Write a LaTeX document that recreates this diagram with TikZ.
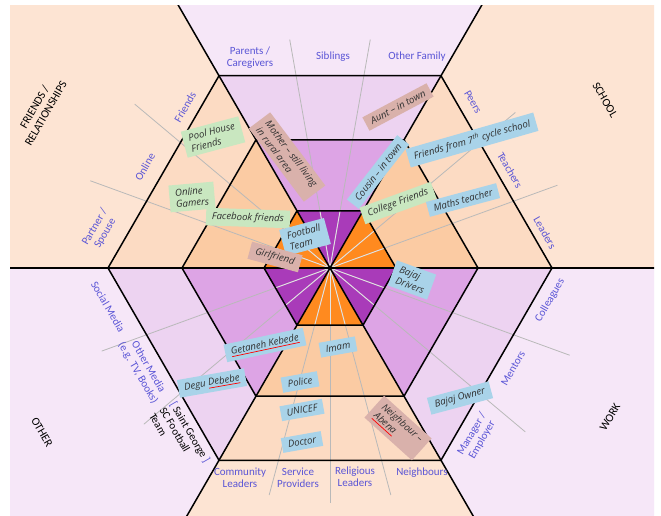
\documentclass[tikz,border=0pt]{standalone}
\usepackage{fontspec}
\setmainfont{Carlito}
\newfontfamily\handfont{Open Sans}
\definecolor{oPe}{HTML}{FDE4D3}
\definecolor{oLa}{HTML}{F6E7F8}
\definecolor{rPe}{HTML}{FCDBC3}
\definecolor{rLa}{HTML}{EDD3F1}
\definecolor{mPe}{HTML}{FBCBA3}
\definecolor{mLa}{HTML}{DDA4E5}
\definecolor{iOr}{HTML}{FF8A1F}
\definecolor{iPu}{HTML}{A93BB9}
\definecolor{lblblue}{HTML}{5A55D6}
\definecolor{nblue}{HTML}{A9D3E9}
\definecolor{ngreen}{HTML}{C9E7C0}
\definecolor{nrose}{HTML}{D9B1AB}
\definecolor{ntext}{HTML}{303030}
\newsavebox{\redulbox}
\newcommand\redul[1]{\leavevmode\sbox{\redulbox}{#1}\rlap{\textcolor{red}{\rule[-2.6pt]{\wd\redulbox}{0.7pt}}}\usebox{\redulbox}}
\tikzset{
  lbl/.style={text=lblblue, font=\fontsize{11}{12}\selectfont, align=center, inner sep=0pt},
  ttl/.style={text=black, font=\fontsize{11.5}{13}\selectfont, align=center, inner sep=0pt},
  note/.style={font=\handfont\itshape\fontsize{9.6}{11.5}\selectfont, text=ntext, inner xsep=6pt, inner ysep=4pt, align=left},
  nb/.style={note, fill=nblue},
  ng/.style={note, fill=ngreen},
  nr/.style={note, fill=nrose},
  greyline/.style={draw=gray!55, line width=0.8pt},
  whiteline/.style={draw=white, opacity=0.6, line width=0.9pt},
  blk/.style={draw=black, line width=1.5pt, line join=round}
}
\begin{document}
\begin{tikzpicture}[x=1pt,y=1pt]
\useasboundingbox (0,0) rectangle (661,515);
\fill[white] (0,0) rectangle (661,515);
\begin{scope}
\clip (10,0) rectangle (654,509);
\begin{scope}[shift={(330,247)}]
  % outer sectors
  \foreach \k/\c in {0/oPe,1/oLa,2/oPe,3/oLa,4/oPe,5/oLa}
    \fill[\c] (0,0) -- (60*\k:800) -- (60*\k+60:800) -- cycle;
  % ring 2
  \foreach \k/\c in {0/rPe,1/rLa,2/rPe,3/rLa,4/rPe,5/rLa}
    \fill[\c] (0,0) -- (60*\k:222) -- (60*\k+60:222) -- cycle;
  % ring 3
  \foreach \k/\c in {0/mPe,1/mLa,2/mPe,3/mLa,4/mPe,5/mLa}
    \fill[\c] (0,0) -- (60*\k:148) -- (60*\k+60:148) -- cycle;
  % inner
  \foreach \k/\c in {0/iOr,1/iPu,2/iOr,3/iPu,4/iOr,5/iPu}
    \fill[\c] (0,0) -- (60*\k:66) -- (60*\k+60:66) -- cycle;
  % grey subdivision lines
  \foreach \a/\r in {20/242,40/242,80/232,100/232,140/255,160/255,200/243,220/243,255/235,270/235,285/235,320/255,340/255}
    \draw[greyline] (0,0) -- (\a:\r);
  \begin{scope}
    \clip (0:66) -- (60:66) -- (120:66) -- (180:66) -- (240:66) -- (300:66) -- cycle;
    \foreach \a in {20,40,80,100,140,160,200,220,255,270,285,320,340}
      \draw[whiteline] (0,0) -- (\a:80);
  \end{scope}
  % black structure
  \foreach \a in {0,60,...,300}
    \draw[blk] (0,0) -- (\a:800);
  \foreach \R in {66,148,222}
    \draw[blk] (0:\R) -- (60:\R) -- (120:\R) -- (180:\R) -- (240:\R) -- (300:\R) -- cycle;
  \fill[black] (0,0) circle (2);
\end{scope}
\end{scope}

% outer labels
\node[lbl] (parents) at (250,457) {Parents /\\Caregivers};
\node[lbl] (siblings) at (333,458) {Siblings};
\node[lbl] (ofamily) at (417,458) {Other Family};
\node[lbl, rotate=-60] (peers) at (473,413) {Peers};
\node[lbl, rotate=-60] (teachers) at (510,345) {Teachers};
\node[lbl, rotate=-60] (leaders) at (545,282) {Leaders};
\node[ttl, rotate=-60] (school) at (605,415) {SCHOOL};
\node[lbl, rotate=60] (friends) at (185,408) {Friends};
\node[lbl, rotate=60] (online) at (145,348) {Online};
\node[lbl, rotate=60] (partner) at (100,285) {Partner /\\Spouse};
\node[ttl, rotate=60] (friendsrel) at (40,405) {FRIENDS /\\RELATIONSHIPS};
\node[lbl, rotate=-60] (social) at (108,208) {Social Media};
\node[lbl, rotate=-60] (omedia) at (143,145) {Other Media\\(e.g. TV, Books)};
\node[lbl, text=black, align=left, rotate=-60] (stgeorge) at (180,77) {\textcolor{lblblue}{[} Saint George \textcolor{lblblue}{]}\\SC Football\\Team};
\node[ttl, rotate=-60] (other) at (42,83) {OTHER};
\node[lbl, rotate=60] (colleagues) at (550,215) {Colleagues};
\node[lbl, rotate=60] (mentors) at (513,147) {Mentors};
\node[lbl, rotate=60] (manager) at (477,78) {Manager /\\Employer};
\node[ttl, rotate=60] (work) at (610,98) {WORK};
\node[lbl] (community) at (240,37) {Community\\Leaders};
\node[lbl] (service) at (298,37) {Service\\Providers};
\node[lbl] (religious) at (355,38) {Religious\\Leaders};
\node[lbl] (neighbours) at (422,42) {Neighbours};

% notes
\node[nr, rotate=-53] (mother) at (287,358) {Mother – still living\\in rural area};
\node[nr, rotate=28] (aunt) at (398,408) {Aunt – in town};
\node[ng, rotate=15] (pool) at (213,378) {Pool House\\Friends};
\node[ng, rotate=5] (gamers) at (192,318) {Online\\Gamers};
\node[ng, rotate=-2] (facebook) at (248,297) {Facebook friends};
\node[nb, rotate=15] (football) at (305,278) {Football\\Team};
\node[nr, rotate=-15] (girlfriend) at (275,258) {Girlfriend};
\node[nb, rotate=52] (cousin) at (378,343) {Cousin – in town};
\node[nb, rotate=16] (seventh) at (472,375) {Friends from 7\textsuperscript{th} cycle school};
\node[ng, rotate=20] (college) at (398,312) {College Friends};
\node[nb, rotate=15] (maths) at (463,315) {Maths teacher};
\node[nb, rotate=-20] (bajajd) at (412,235) {Bajaj\\Drivers};
\node[nb, rotate=12] (getaneh) at (265,170) {\redul{Getaneh Kebede}};
\node[nb, rotate=10] (degu) at (212,132) {Degu \redul{Debebe}};
\node[nb, rotate=10] (imam) at (338,168) {Imam};
\node[nb, rotate=10] (police) at (300,133) {Police};
\node[nb, rotate=10] (unicef) at (302,105) {UNICEF};
\node[nb, rotate=10] (doctor) at (302,73) {Doctor};
\node[nr, rotate=-42] (neighbour) at (398,87) {Neighbour –\\\redul{Abena}};
\node[nb, rotate=15] (bajajo) at (460,117) {Bajaj Owner};
\end{tikzpicture}
\end{document}
